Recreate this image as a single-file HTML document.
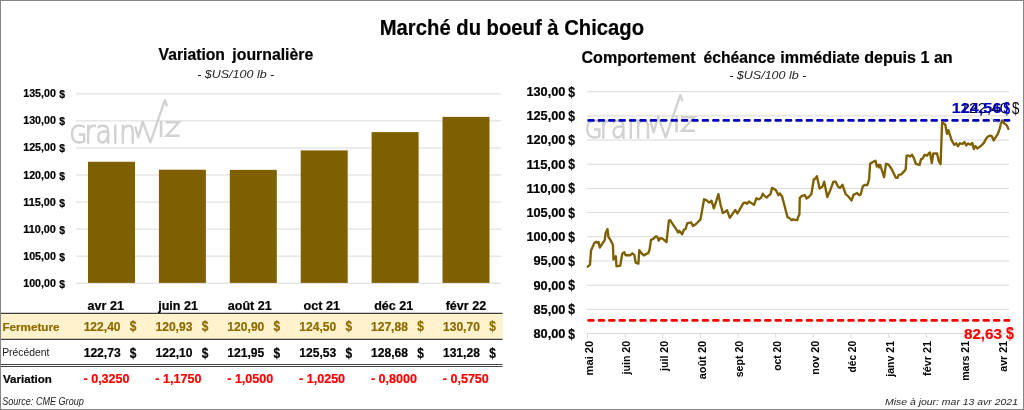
<!DOCTYPE html>
<html><head><meta charset="utf-8"><title>Marché du boeuf à Chicago</title>
<style>html,body{margin:0;padding:0;background:#fff;}svg{display:block;}</style></head>
<body><svg width="1024" height="410" viewBox="0 0 1024 410">
<defs><clipPath id="wmclip" clipPathUnits="userSpaceOnUse"><rect x="60" y="124.5" width="100" height="40"/></clipPath></defs>
<rect x="0" y="0" width="1024" height="410" fill="#fff"/>
<rect x="0" y="313.5" width="502.6" height="25.5" fill="#FFF2CC"/>
<line x1="0" y1="313.3" x2="502.6" y2="313.3" stroke="#3f3f3f" stroke-width="1.2"/>
<line x1="0" y1="339.3" x2="502.6" y2="339.3" stroke="#3f3f3f" stroke-width="1.2"/>
<line x1="0" y1="364.5" x2="502.6" y2="364.5" stroke="#444" stroke-width="1"/>
<line x1="0" y1="366.5" x2="502.6" y2="366.5" stroke="#444" stroke-width="1"/>
<line x1="76" y1="93.86" x2="501" y2="93.86" stroke="#d9d9d9" stroke-width="1"/>
<line x1="76" y1="120.91" x2="501" y2="120.91" stroke="#d9d9d9" stroke-width="1"/>
<line x1="76" y1="147.96" x2="501" y2="147.96" stroke="#d9d9d9" stroke-width="1"/>
<line x1="76" y1="175.01" x2="501" y2="175.01" stroke="#d9d9d9" stroke-width="1"/>
<line x1="76" y1="202.06" x2="501" y2="202.06" stroke="#d9d9d9" stroke-width="1"/>
<line x1="76" y1="229.11" x2="501" y2="229.11" stroke="#d9d9d9" stroke-width="1"/>
<line x1="76" y1="256.16" x2="501" y2="256.16" stroke="#d9d9d9" stroke-width="1"/>
<line x1="76" y1="283.21" x2="501" y2="283.21" stroke="#d9d9d9" stroke-width="1"/>
<g transform="translate(0.00 0.00)">
<text x="69.40" y="143.30" textLength="17.62" lengthAdjust="spacingAndGlyphs" style="font-family:'DejaVu Sans', sans-serif;font-size:24.50px;font-weight:200;font-style:normal" fill="#d2d2d2" stroke="#d2d2d2" stroke-width="1.3">G</text>
<text x="84.45" y="142.70" textLength="51.72" lengthAdjust="spacingAndGlyphs" style="font-family:'DejaVu Sans', sans-serif;font-size:31.50px;font-weight:200;font-style:normal" fill="#d2d2d2" stroke="#d2d2d2" stroke-width="1.3" clip-path="url(#wmclip)">rain</text>
<polyline points="135.2,126.5 138.3,137.3 142.8,121.8 150.3,142.3 164.8,100.3 167.2,106.3" fill="none" stroke="#d2d2d2" stroke-width="2.4" stroke-linejoin="round"/>
<rect x="159.8" y="121" width="2.6" height="16.2" fill="#d2d2d2"/>
<polyline points="165.6,122.2 179,122.2 166.5,135.8 179.6,135.8" fill="none" stroke="#d2d2d2" stroke-width="2.4"/>
</g>
<rect x="88.00" y="161.76" width="47" height="121.14" fill="#7F6000"/>
<rect x="158.90" y="169.71" width="47" height="113.19" fill="#7F6000"/>
<rect x="229.80" y="169.87" width="47" height="113.03" fill="#7F6000"/>
<rect x="300.70" y="150.40" width="47" height="132.50" fill="#7F6000"/>
<rect x="371.60" y="132.12" width="47" height="150.78" fill="#7F6000"/>
<rect x="442.50" y="116.87" width="47" height="166.03" fill="#7F6000"/>
<text x="23.23" y="97.36" textLength="32.71" lengthAdjust="spacingAndGlyphs" style="font-family:'Liberation Sans', Arial, sans-serif;font-size:10.30px;font-weight:bold;font-style:normal" fill="#000" stroke="#000" stroke-width="0.20">135,00</text>
<text x="59.16" y="98.36" textLength="5.78" lengthAdjust="spacingAndGlyphs" style="font-family:'Liberation Sans', Arial, sans-serif;font-size:11.40px;font-weight:bold;font-style:normal" fill="#000" stroke="#000" stroke-width="0.20">$</text>
<text x="23.23" y="124.41" textLength="32.71" lengthAdjust="spacingAndGlyphs" style="font-family:'Liberation Sans', Arial, sans-serif;font-size:10.30px;font-weight:bold;font-style:normal" fill="#000" stroke="#000" stroke-width="0.20">130,00</text>
<text x="59.16" y="125.41" textLength="5.78" lengthAdjust="spacingAndGlyphs" style="font-family:'Liberation Sans', Arial, sans-serif;font-size:11.40px;font-weight:bold;font-style:normal" fill="#000" stroke="#000" stroke-width="0.20">$</text>
<text x="23.23" y="151.46" textLength="32.71" lengthAdjust="spacingAndGlyphs" style="font-family:'Liberation Sans', Arial, sans-serif;font-size:10.30px;font-weight:bold;font-style:normal" fill="#000" stroke="#000" stroke-width="0.20">125,00</text>
<text x="59.16" y="152.46" textLength="5.78" lengthAdjust="spacingAndGlyphs" style="font-family:'Liberation Sans', Arial, sans-serif;font-size:11.40px;font-weight:bold;font-style:normal" fill="#000" stroke="#000" stroke-width="0.20">$</text>
<text x="23.23" y="178.51" textLength="32.71" lengthAdjust="spacingAndGlyphs" style="font-family:'Liberation Sans', Arial, sans-serif;font-size:10.30px;font-weight:bold;font-style:normal" fill="#000" stroke="#000" stroke-width="0.20">120,00</text>
<text x="59.16" y="179.51" textLength="5.78" lengthAdjust="spacingAndGlyphs" style="font-family:'Liberation Sans', Arial, sans-serif;font-size:11.40px;font-weight:bold;font-style:normal" fill="#000" stroke="#000" stroke-width="0.20">$</text>
<text x="23.23" y="205.56" textLength="32.71" lengthAdjust="spacingAndGlyphs" style="font-family:'Liberation Sans', Arial, sans-serif;font-size:10.30px;font-weight:bold;font-style:normal" fill="#000" stroke="#000" stroke-width="0.20">115,00</text>
<text x="59.16" y="206.56" textLength="5.78" lengthAdjust="spacingAndGlyphs" style="font-family:'Liberation Sans', Arial, sans-serif;font-size:11.40px;font-weight:bold;font-style:normal" fill="#000" stroke="#000" stroke-width="0.20">$</text>
<text x="23.23" y="232.61" textLength="32.71" lengthAdjust="spacingAndGlyphs" style="font-family:'Liberation Sans', Arial, sans-serif;font-size:10.30px;font-weight:bold;font-style:normal" fill="#000" stroke="#000" stroke-width="0.20">110,00</text>
<text x="59.16" y="233.61" textLength="5.78" lengthAdjust="spacingAndGlyphs" style="font-family:'Liberation Sans', Arial, sans-serif;font-size:11.40px;font-weight:bold;font-style:normal" fill="#000" stroke="#000" stroke-width="0.20">$</text>
<text x="23.23" y="259.66" textLength="32.71" lengthAdjust="spacingAndGlyphs" style="font-family:'Liberation Sans', Arial, sans-serif;font-size:10.30px;font-weight:bold;font-style:normal" fill="#000" stroke="#000" stroke-width="0.20">105,00</text>
<text x="59.16" y="260.66" textLength="5.78" lengthAdjust="spacingAndGlyphs" style="font-family:'Liberation Sans', Arial, sans-serif;font-size:11.40px;font-weight:bold;font-style:normal" fill="#000" stroke="#000" stroke-width="0.20">$</text>
<text x="23.23" y="286.71" textLength="32.71" lengthAdjust="spacingAndGlyphs" style="font-family:'Liberation Sans', Arial, sans-serif;font-size:10.30px;font-weight:bold;font-style:normal" fill="#000" stroke="#000" stroke-width="0.20">100,00</text>
<text x="59.16" y="287.71" textLength="5.78" lengthAdjust="spacingAndGlyphs" style="font-family:'Liberation Sans', Arial, sans-serif;font-size:11.40px;font-weight:bold;font-style:normal" fill="#000" stroke="#000" stroke-width="0.20">$</text>
<text x="158.59" y="59.80" textLength="66.37" lengthAdjust="spacingAndGlyphs" style="font-family:'Liberation Sans', Arial, sans-serif;font-size:16.30px;font-weight:bold;font-style:normal" fill="#000" stroke="#000" stroke-width="0.20">Variation</text>
<text x="232.35" y="59.80" textLength="80.89" lengthAdjust="spacingAndGlyphs" style="font-family:'Liberation Sans', Arial, sans-serif;font-size:16.30px;font-weight:bold;font-style:normal" fill="#000" stroke="#000" stroke-width="0.20">journalière</text>
<text x="197.16" y="77.60" textLength="77.12" lengthAdjust="spacingAndGlyphs" style="font-family:'Liberation Sans', Arial, sans-serif;font-size:11.50px;font-weight:normal;font-style:italic" fill="#262626">- $US/100 lb -</text>
<text x="87.63" y="309.70" textLength="36.32" lengthAdjust="spacingAndGlyphs" style="font-family:'Liberation Sans', Arial, sans-serif;font-size:12.20px;font-weight:bold;font-style:normal" fill="#000" stroke="#000" stroke-width="0.20">avr 21</text>
<text x="158.17" y="309.70" textLength="39.81" lengthAdjust="spacingAndGlyphs" style="font-family:'Liberation Sans', Arial, sans-serif;font-size:12.20px;font-weight:bold;font-style:normal" fill="#000" stroke="#000" stroke-width="0.20">juin 21</text>
<text x="227.78" y="309.70" textLength="44.01" lengthAdjust="spacingAndGlyphs" style="font-family:'Liberation Sans', Arial, sans-serif;font-size:12.20px;font-weight:bold;font-style:normal" fill="#000" stroke="#000" stroke-width="0.20">août 21</text>
<text x="303.58" y="309.70" textLength="36.30" lengthAdjust="spacingAndGlyphs" style="font-family:'Liberation Sans', Arial, sans-serif;font-size:12.20px;font-weight:bold;font-style:normal" fill="#000" stroke="#000" stroke-width="0.20">oct 21</text>
<text x="374.16" y="309.70" textLength="39.12" lengthAdjust="spacingAndGlyphs" style="font-family:'Liberation Sans', Arial, sans-serif;font-size:12.20px;font-weight:bold;font-style:normal" fill="#000" stroke="#000" stroke-width="0.20">déc 21</text>
<text x="445.68" y="309.70" textLength="40.52" lengthAdjust="spacingAndGlyphs" style="font-family:'Liberation Sans', Arial, sans-serif;font-size:12.20px;font-weight:bold;font-style:normal" fill="#000" stroke="#000" stroke-width="0.20">févr 22</text>
<text x="83.64" y="330.90" textLength="36.96" lengthAdjust="spacingAndGlyphs" style="font-family:'Liberation Sans', Arial, sans-serif;font-size:12.50px;font-weight:bold;font-style:normal" fill="#8E6B00" stroke="#8E6B00" stroke-width="0.20">122,40</text>
<text x="129.84" y="331.45" textLength="6.63" lengthAdjust="spacingAndGlyphs" style="font-family:'Liberation Sans', Arial, sans-serif;font-size:14.30px;font-weight:bold;font-style:normal" fill="#8E6B00" stroke="#8E6B00" stroke-width="0.20">$</text>
<text x="83.68" y="356.50" textLength="36.96" lengthAdjust="spacingAndGlyphs" style="font-family:'Liberation Sans', Arial, sans-serif;font-size:12.50px;font-weight:bold;font-style:normal" fill="#000" stroke="#000" stroke-width="0.20">122,73</text>
<text x="129.84" y="357.70" textLength="6.63" lengthAdjust="spacingAndGlyphs" style="font-family:'Liberation Sans', Arial, sans-serif;font-size:14.30px;font-weight:bold;font-style:normal" fill="#000" stroke="#000" stroke-width="0.20">$</text>
<text x="83.51" y="382.70" textLength="46.00" lengthAdjust="spacingAndGlyphs" style="font-family:'Liberation Sans', Arial, sans-serif;font-size:12.50px;font-weight:bold;font-style:normal" fill="#FF0000" stroke="#FF0000" stroke-width="0.20">- 0,3250</text>
<text x="155.44" y="330.90" textLength="36.96" lengthAdjust="spacingAndGlyphs" style="font-family:'Liberation Sans', Arial, sans-serif;font-size:12.50px;font-weight:bold;font-style:normal" fill="#8E6B00" stroke="#8E6B00" stroke-width="0.20">120,93</text>
<text x="201.70" y="331.45" textLength="6.63" lengthAdjust="spacingAndGlyphs" style="font-family:'Liberation Sans', Arial, sans-serif;font-size:14.30px;font-weight:bold;font-style:normal" fill="#8E6B00" stroke="#8E6B00" stroke-width="0.20">$</text>
<text x="155.60" y="356.50" textLength="36.96" lengthAdjust="spacingAndGlyphs" style="font-family:'Liberation Sans', Arial, sans-serif;font-size:12.50px;font-weight:bold;font-style:normal" fill="#000" stroke="#000" stroke-width="0.20">122,10</text>
<text x="201.70" y="357.70" textLength="6.63" lengthAdjust="spacingAndGlyphs" style="font-family:'Liberation Sans', Arial, sans-serif;font-size:14.30px;font-weight:bold;font-style:normal" fill="#000" stroke="#000" stroke-width="0.20">$</text>
<text x="155.37" y="382.70" textLength="46.00" lengthAdjust="spacingAndGlyphs" style="font-family:'Liberation Sans', Arial, sans-serif;font-size:12.50px;font-weight:bold;font-style:normal" fill="#FF0000" stroke="#FF0000" stroke-width="0.20">- 1,1750</text>
<text x="227.36" y="330.90" textLength="36.96" lengthAdjust="spacingAndGlyphs" style="font-family:'Liberation Sans', Arial, sans-serif;font-size:12.50px;font-weight:bold;font-style:normal" fill="#8E6B00" stroke="#8E6B00" stroke-width="0.20">120,90</text>
<text x="273.56" y="331.45" textLength="6.63" lengthAdjust="spacingAndGlyphs" style="font-family:'Liberation Sans', Arial, sans-serif;font-size:14.30px;font-weight:bold;font-style:normal" fill="#8E6B00" stroke="#8E6B00" stroke-width="0.20">$</text>
<text x="227.30" y="356.50" textLength="36.96" lengthAdjust="spacingAndGlyphs" style="font-family:'Liberation Sans', Arial, sans-serif;font-size:12.50px;font-weight:bold;font-style:normal" fill="#000" stroke="#000" stroke-width="0.20">121,95</text>
<text x="273.56" y="357.70" textLength="6.63" lengthAdjust="spacingAndGlyphs" style="font-family:'Liberation Sans', Arial, sans-serif;font-size:14.30px;font-weight:bold;font-style:normal" fill="#000" stroke="#000" stroke-width="0.20">$</text>
<text x="227.23" y="382.70" textLength="46.00" lengthAdjust="spacingAndGlyphs" style="font-family:'Liberation Sans', Arial, sans-serif;font-size:12.50px;font-weight:bold;font-style:normal" fill="#FF0000" stroke="#FF0000" stroke-width="0.20">- 1,0500</text>
<text x="299.22" y="330.90" textLength="36.96" lengthAdjust="spacingAndGlyphs" style="font-family:'Liberation Sans', Arial, sans-serif;font-size:12.50px;font-weight:bold;font-style:normal" fill="#8E6B00" stroke="#8E6B00" stroke-width="0.20">124,50</text>
<text x="345.42" y="331.45" textLength="6.63" lengthAdjust="spacingAndGlyphs" style="font-family:'Liberation Sans', Arial, sans-serif;font-size:14.30px;font-weight:bold;font-style:normal" fill="#8E6B00" stroke="#8E6B00" stroke-width="0.20">$</text>
<text x="299.26" y="356.50" textLength="36.96" lengthAdjust="spacingAndGlyphs" style="font-family:'Liberation Sans', Arial, sans-serif;font-size:12.50px;font-weight:bold;font-style:normal" fill="#000" stroke="#000" stroke-width="0.20">125,53</text>
<text x="345.42" y="357.70" textLength="6.63" lengthAdjust="spacingAndGlyphs" style="font-family:'Liberation Sans', Arial, sans-serif;font-size:14.30px;font-weight:bold;font-style:normal" fill="#000" stroke="#000" stroke-width="0.20">$</text>
<text x="299.09" y="382.70" textLength="46.00" lengthAdjust="spacingAndGlyphs" style="font-family:'Liberation Sans', Arial, sans-serif;font-size:12.50px;font-weight:bold;font-style:normal" fill="#FF0000" stroke="#FF0000" stroke-width="0.20">- 1,0250</text>
<text x="370.95" y="330.90" textLength="36.96" lengthAdjust="spacingAndGlyphs" style="font-family:'Liberation Sans', Arial, sans-serif;font-size:12.50px;font-weight:bold;font-style:normal" fill="#8E6B00" stroke="#8E6B00" stroke-width="0.20">127,88</text>
<text x="417.28" y="331.45" textLength="6.63" lengthAdjust="spacingAndGlyphs" style="font-family:'Liberation Sans', Arial, sans-serif;font-size:14.30px;font-weight:bold;font-style:normal" fill="#8E6B00" stroke="#8E6B00" stroke-width="0.20">$</text>
<text x="371.05" y="356.50" textLength="36.96" lengthAdjust="spacingAndGlyphs" style="font-family:'Liberation Sans', Arial, sans-serif;font-size:12.50px;font-weight:bold;font-style:normal" fill="#000" stroke="#000" stroke-width="0.20">128,68</text>
<text x="417.28" y="357.70" textLength="6.63" lengthAdjust="spacingAndGlyphs" style="font-family:'Liberation Sans', Arial, sans-serif;font-size:14.30px;font-weight:bold;font-style:normal" fill="#000" stroke="#000" stroke-width="0.20">$</text>
<text x="370.95" y="382.70" textLength="46.00" lengthAdjust="spacingAndGlyphs" style="font-family:'Liberation Sans', Arial, sans-serif;font-size:12.50px;font-weight:bold;font-style:normal" fill="#FF0000" stroke="#FF0000" stroke-width="0.20">- 0,8000</text>
<text x="442.94" y="330.90" textLength="36.96" lengthAdjust="spacingAndGlyphs" style="font-family:'Liberation Sans', Arial, sans-serif;font-size:12.50px;font-weight:bold;font-style:normal" fill="#8E6B00" stroke="#8E6B00" stroke-width="0.20">130,70</text>
<text x="489.14" y="331.45" textLength="6.63" lengthAdjust="spacingAndGlyphs" style="font-family:'Liberation Sans', Arial, sans-serif;font-size:14.30px;font-weight:bold;font-style:normal" fill="#8E6B00" stroke="#8E6B00" stroke-width="0.20">$</text>
<text x="442.91" y="356.50" textLength="36.96" lengthAdjust="spacingAndGlyphs" style="font-family:'Liberation Sans', Arial, sans-serif;font-size:12.50px;font-weight:bold;font-style:normal" fill="#000" stroke="#000" stroke-width="0.20">131,28</text>
<text x="489.14" y="357.70" textLength="6.63" lengthAdjust="spacingAndGlyphs" style="font-family:'Liberation Sans', Arial, sans-serif;font-size:14.30px;font-weight:bold;font-style:normal" fill="#000" stroke="#000" stroke-width="0.20">$</text>
<text x="442.81" y="382.70" textLength="46.00" lengthAdjust="spacingAndGlyphs" style="font-family:'Liberation Sans', Arial, sans-serif;font-size:12.50px;font-weight:bold;font-style:normal" fill="#FF0000" stroke="#FF0000" stroke-width="0.20">- 0,5750</text>
<text x="2.42" y="330.50" textLength="57.08" lengthAdjust="spacingAndGlyphs" style="font-family:'Liberation Sans', Arial, sans-serif;font-size:10.50px;font-weight:bold;font-style:normal" fill="#8E6B00" stroke="#8E6B00" stroke-width="0.20">Fermeture</text>
<text x="2.15" y="355.90" textLength="47.33" lengthAdjust="spacingAndGlyphs" style="font-family:'Liberation Sans', Arial, sans-serif;font-size:10.60px;font-weight:normal;font-style:normal" fill="#1a1a1a">Précédent</text>
<text x="3.02" y="382.70" textLength="48.78" lengthAdjust="spacingAndGlyphs" style="font-family:'Liberation Sans', Arial, sans-serif;font-size:11.50px;font-weight:bold;font-style:normal" fill="#000" stroke="#000" stroke-width="0.20">Variation</text>
<text x="2.14" y="404.50" textLength="81.65" lengthAdjust="spacingAndGlyphs" style="font-family:'Liberation Sans', Arial, sans-serif;font-size:10.20px;font-weight:normal;font-style:italic" fill="#262626">Source: CME Group</text>
<text x="379.75" y="34.80" textLength="264.35" lengthAdjust="spacingAndGlyphs" style="font-family:'Liberation Sans', Arial, sans-serif;font-size:22.10px;font-weight:bold;font-style:normal" fill="#000" stroke="#000" stroke-width="0.20">Marché du boeuf à Chicago</text>
<line x1="587" y1="91.70" x2="1009" y2="91.70" stroke="#d9d9d9" stroke-width="1"/>
<line x1="587" y1="115.88" x2="1009" y2="115.88" stroke="#d9d9d9" stroke-width="1"/>
<line x1="587" y1="140.06" x2="1009" y2="140.06" stroke="#d9d9d9" stroke-width="1"/>
<line x1="587" y1="164.24" x2="1009" y2="164.24" stroke="#d9d9d9" stroke-width="1"/>
<line x1="587" y1="188.42" x2="1009" y2="188.42" stroke="#d9d9d9" stroke-width="1"/>
<line x1="587" y1="212.60" x2="1009" y2="212.60" stroke="#d9d9d9" stroke-width="1"/>
<line x1="587" y1="236.78" x2="1009" y2="236.78" stroke="#d9d9d9" stroke-width="1"/>
<line x1="587" y1="260.96" x2="1009" y2="260.96" stroke="#d9d9d9" stroke-width="1"/>
<line x1="587" y1="285.14" x2="1009" y2="285.14" stroke="#d9d9d9" stroke-width="1"/>
<line x1="587" y1="309.32" x2="1009" y2="309.32" stroke="#d9d9d9" stroke-width="1"/>
<line x1="587" y1="333.50" x2="1009" y2="333.50" stroke="#d9d9d9" stroke-width="1"/>
<line x1="587.50" y1="333.5" x2="587.50" y2="337.8" stroke="#d9d9d9" stroke-width="1"/>
<line x1="625.14" y1="333.5" x2="625.14" y2="337.8" stroke="#d9d9d9" stroke-width="1"/>
<line x1="662.78" y1="333.5" x2="662.78" y2="337.8" stroke="#d9d9d9" stroke-width="1"/>
<line x1="700.42" y1="333.5" x2="700.42" y2="337.8" stroke="#d9d9d9" stroke-width="1"/>
<line x1="738.06" y1="333.5" x2="738.06" y2="337.8" stroke="#d9d9d9" stroke-width="1"/>
<line x1="775.70" y1="333.5" x2="775.70" y2="337.8" stroke="#d9d9d9" stroke-width="1"/>
<line x1="813.34" y1="333.5" x2="813.34" y2="337.8" stroke="#d9d9d9" stroke-width="1"/>
<line x1="850.98" y1="333.5" x2="850.98" y2="337.8" stroke="#d9d9d9" stroke-width="1"/>
<line x1="888.62" y1="333.5" x2="888.62" y2="337.8" stroke="#d9d9d9" stroke-width="1"/>
<line x1="926.26" y1="333.5" x2="926.26" y2="337.8" stroke="#d9d9d9" stroke-width="1"/>
<line x1="963.90" y1="333.5" x2="963.90" y2="337.8" stroke="#d9d9d9" stroke-width="1"/>
<line x1="1001.54" y1="333.5" x2="1001.54" y2="337.8" stroke="#d9d9d9" stroke-width="1"/>
<g transform="translate(515.40 -5.00)">
<text x="69.40" y="143.30" textLength="17.62" lengthAdjust="spacingAndGlyphs" style="font-family:'DejaVu Sans', sans-serif;font-size:24.50px;font-weight:200;font-style:normal" fill="#d2d2d2" stroke="#d2d2d2" stroke-width="1.3">G</text>
<text x="84.45" y="142.70" textLength="51.72" lengthAdjust="spacingAndGlyphs" style="font-family:'DejaVu Sans', sans-serif;font-size:31.50px;font-weight:200;font-style:normal" fill="#d2d2d2" stroke="#d2d2d2" stroke-width="1.3" clip-path="url(#wmclip)">rain</text>
<polyline points="135.2,126.5 138.3,137.3 142.8,121.8 150.3,142.3 164.8,100.3 167.2,106.3" fill="none" stroke="#d2d2d2" stroke-width="2.4" stroke-linejoin="round"/>
<rect x="159.8" y="121" width="2.6" height="16.2" fill="#d2d2d2"/>
<polyline points="165.6,122.2 179,122.2 166.5,135.8 179.6,135.8" fill="none" stroke="#d2d2d2" stroke-width="2.4"/>
</g>
<text x="526.40" y="96.10" textLength="39.03" lengthAdjust="spacingAndGlyphs" style="font-family:'Liberation Sans', Arial, sans-serif;font-size:12.40px;font-weight:bold;font-style:normal" fill="#000" stroke="#000" stroke-width="0.20">130,00</text>
<text x="568.34" y="96.70" textLength="6.73" lengthAdjust="spacingAndGlyphs" style="font-family:'Liberation Sans', Arial, sans-serif;font-size:15.40px;font-weight:bold;font-style:normal" fill="#000" stroke="#000" stroke-width="0.20">$</text>
<text x="526.40" y="120.28" textLength="39.03" lengthAdjust="spacingAndGlyphs" style="font-family:'Liberation Sans', Arial, sans-serif;font-size:12.40px;font-weight:bold;font-style:normal" fill="#000" stroke="#000" stroke-width="0.20">125,00</text>
<text x="568.34" y="120.88" textLength="6.73" lengthAdjust="spacingAndGlyphs" style="font-family:'Liberation Sans', Arial, sans-serif;font-size:15.40px;font-weight:bold;font-style:normal" fill="#000" stroke="#000" stroke-width="0.20">$</text>
<text x="526.40" y="144.46" textLength="39.03" lengthAdjust="spacingAndGlyphs" style="font-family:'Liberation Sans', Arial, sans-serif;font-size:12.40px;font-weight:bold;font-style:normal" fill="#000" stroke="#000" stroke-width="0.20">120,00</text>
<text x="568.34" y="145.06" textLength="6.73" lengthAdjust="spacingAndGlyphs" style="font-family:'Liberation Sans', Arial, sans-serif;font-size:15.40px;font-weight:bold;font-style:normal" fill="#000" stroke="#000" stroke-width="0.20">$</text>
<text x="526.40" y="168.64" textLength="39.03" lengthAdjust="spacingAndGlyphs" style="font-family:'Liberation Sans', Arial, sans-serif;font-size:12.40px;font-weight:bold;font-style:normal" fill="#000" stroke="#000" stroke-width="0.20">115,00</text>
<text x="568.34" y="169.24" textLength="6.73" lengthAdjust="spacingAndGlyphs" style="font-family:'Liberation Sans', Arial, sans-serif;font-size:15.40px;font-weight:bold;font-style:normal" fill="#000" stroke="#000" stroke-width="0.20">$</text>
<text x="526.40" y="192.82" textLength="39.03" lengthAdjust="spacingAndGlyphs" style="font-family:'Liberation Sans', Arial, sans-serif;font-size:12.40px;font-weight:bold;font-style:normal" fill="#000" stroke="#000" stroke-width="0.20">110,00</text>
<text x="568.34" y="193.42" textLength="6.73" lengthAdjust="spacingAndGlyphs" style="font-family:'Liberation Sans', Arial, sans-serif;font-size:15.40px;font-weight:bold;font-style:normal" fill="#000" stroke="#000" stroke-width="0.20">$</text>
<text x="526.40" y="217.00" textLength="39.03" lengthAdjust="spacingAndGlyphs" style="font-family:'Liberation Sans', Arial, sans-serif;font-size:12.40px;font-weight:bold;font-style:normal" fill="#000" stroke="#000" stroke-width="0.20">105,00</text>
<text x="568.34" y="217.60" textLength="6.73" lengthAdjust="spacingAndGlyphs" style="font-family:'Liberation Sans', Arial, sans-serif;font-size:15.40px;font-weight:bold;font-style:normal" fill="#000" stroke="#000" stroke-width="0.20">$</text>
<text x="526.40" y="241.18" textLength="39.03" lengthAdjust="spacingAndGlyphs" style="font-family:'Liberation Sans', Arial, sans-serif;font-size:12.40px;font-weight:bold;font-style:normal" fill="#000" stroke="#000" stroke-width="0.20">100,00</text>
<text x="568.34" y="241.78" textLength="6.73" lengthAdjust="spacingAndGlyphs" style="font-family:'Liberation Sans', Arial, sans-serif;font-size:15.40px;font-weight:bold;font-style:normal" fill="#000" stroke="#000" stroke-width="0.20">$</text>
<text x="533.53" y="265.36" textLength="31.89" lengthAdjust="spacingAndGlyphs" style="font-family:'Liberation Sans', Arial, sans-serif;font-size:12.40px;font-weight:bold;font-style:normal" fill="#000" stroke="#000" stroke-width="0.20">95,00</text>
<text x="568.34" y="265.96" textLength="6.73" lengthAdjust="spacingAndGlyphs" style="font-family:'Liberation Sans', Arial, sans-serif;font-size:15.40px;font-weight:bold;font-style:normal" fill="#000" stroke="#000" stroke-width="0.20">$</text>
<text x="533.53" y="289.54" textLength="31.89" lengthAdjust="spacingAndGlyphs" style="font-family:'Liberation Sans', Arial, sans-serif;font-size:12.40px;font-weight:bold;font-style:normal" fill="#000" stroke="#000" stroke-width="0.20">90,00</text>
<text x="568.34" y="290.14" textLength="6.73" lengthAdjust="spacingAndGlyphs" style="font-family:'Liberation Sans', Arial, sans-serif;font-size:15.40px;font-weight:bold;font-style:normal" fill="#000" stroke="#000" stroke-width="0.20">$</text>
<text x="533.53" y="313.72" textLength="31.89" lengthAdjust="spacingAndGlyphs" style="font-family:'Liberation Sans', Arial, sans-serif;font-size:12.40px;font-weight:bold;font-style:normal" fill="#000" stroke="#000" stroke-width="0.20">85,00</text>
<text x="568.34" y="314.32" textLength="6.73" lengthAdjust="spacingAndGlyphs" style="font-family:'Liberation Sans', Arial, sans-serif;font-size:15.40px;font-weight:bold;font-style:normal" fill="#000" stroke="#000" stroke-width="0.20">$</text>
<text x="533.53" y="337.90" textLength="31.89" lengthAdjust="spacingAndGlyphs" style="font-family:'Liberation Sans', Arial, sans-serif;font-size:12.40px;font-weight:bold;font-style:normal" fill="#000" stroke="#000" stroke-width="0.20">80,00</text>
<text x="568.34" y="338.50" textLength="6.73" lengthAdjust="spacingAndGlyphs" style="font-family:'Liberation Sans', Arial, sans-serif;font-size:15.40px;font-weight:bold;font-style:normal" fill="#000" stroke="#000" stroke-width="0.20">$</text>
<text x="581.54" y="62.90" textLength="114.05" lengthAdjust="spacingAndGlyphs" style="font-family:'Liberation Sans', Arial, sans-serif;font-size:16.30px;font-weight:bold;font-style:normal" fill="#000" stroke="#000" stroke-width="0.20">Comportement</text>
<text x="703.59" y="62.90" textLength="71.55" lengthAdjust="spacingAndGlyphs" style="font-family:'Liberation Sans', Arial, sans-serif;font-size:16.30px;font-weight:bold;font-style:normal" fill="#000" stroke="#000" stroke-width="0.20">échéance</text>
<text x="780.18" y="62.90" textLength="172.52" lengthAdjust="spacingAndGlyphs" style="font-family:'Liberation Sans', Arial, sans-serif;font-size:16.30px;font-weight:bold;font-style:normal" fill="#000" stroke="#000" stroke-width="0.20">immédiate depuis 1 an</text>
<text x="729.16" y="79.00" textLength="77.22" lengthAdjust="spacingAndGlyphs" style="font-family:'Liberation Sans', Arial, sans-serif;font-size:11.50px;font-weight:normal;font-style:italic" fill="#262626">- $US/100 lb -</text>
<text transform="translate(592.70 0) rotate(-90)" x="-375.43" y="0" textLength="34.59" lengthAdjust="spacingAndGlyphs" style="font-family:'Liberation Sans', Arial, sans-serif;font-size:11.80px;font-weight:bold" fill="#000">mai 20</text>
<text transform="translate(630.34 0) rotate(-90)" x="-374.53" y="0" textLength="33.67" lengthAdjust="spacingAndGlyphs" style="font-family:'Liberation Sans', Arial, sans-serif;font-size:11.80px;font-weight:bold" fill="#000">juin 20</text>
<text transform="translate(667.98 0) rotate(-90)" x="-370.93" y="0" textLength="30.07" lengthAdjust="spacingAndGlyphs" style="font-family:'Liberation Sans', Arial, sans-serif;font-size:11.80px;font-weight:bold" fill="#000">juil 20</text>
<text transform="translate(705.62 0) rotate(-90)" x="-379.32" y="0" textLength="38.47" lengthAdjust="spacingAndGlyphs" style="font-family:'Liberation Sans', Arial, sans-serif;font-size:11.80px;font-weight:bold" fill="#000">août 20</text>
<text transform="translate(743.26 0) rotate(-90)" x="-377.27" y="0" textLength="36.40" lengthAdjust="spacingAndGlyphs" style="font-family:'Liberation Sans', Arial, sans-serif;font-size:11.80px;font-weight:bold" fill="#000">sept 20</text>
<text transform="translate(780.90 0) rotate(-90)" x="-370.80" y="0" textLength="29.93" lengthAdjust="spacingAndGlyphs" style="font-family:'Liberation Sans', Arial, sans-serif;font-size:11.80px;font-weight:bold" fill="#000">oct 20</text>
<text transform="translate(818.54 0) rotate(-90)" x="-374.81" y="0" textLength="33.95" lengthAdjust="spacingAndGlyphs" style="font-family:'Liberation Sans', Arial, sans-serif;font-size:11.80px;font-weight:bold" fill="#000">nov 20</text>
<text transform="translate(856.18 0) rotate(-90)" x="-372.42" y="0" textLength="31.53" lengthAdjust="spacingAndGlyphs" style="font-family:'Liberation Sans', Arial, sans-serif;font-size:11.80px;font-weight:bold" fill="#000">déc 20</text>
<text transform="translate(893.82 0) rotate(-90)" x="-376.74" y="0" textLength="35.73" lengthAdjust="spacingAndGlyphs" style="font-family:'Liberation Sans', Arial, sans-serif;font-size:11.80px;font-weight:bold" fill="#000">janv 21</text>
<text transform="translate(931.46 0) rotate(-90)" x="-375.99" y="0" textLength="34.99" lengthAdjust="spacingAndGlyphs" style="font-family:'Liberation Sans', Arial, sans-serif;font-size:11.80px;font-weight:bold" fill="#000">févr 21</text>
<text transform="translate(969.10 0) rotate(-90)" x="-380.79" y="0" textLength="39.79" lengthAdjust="spacingAndGlyphs" style="font-family:'Liberation Sans', Arial, sans-serif;font-size:11.80px;font-weight:bold" fill="#000">mars 21</text>
<text transform="translate(1006.74 0) rotate(-90)" x="-371.81" y="0" textLength="30.81" lengthAdjust="spacingAndGlyphs" style="font-family:'Liberation Sans', Arial, sans-serif;font-size:11.80px;font-weight:bold" fill="#000">avr 21</text>
<line x1="588.6" y1="320.45" x2="1009" y2="320.45" stroke="#FF0000" stroke-width="2.75" stroke-dasharray="4.8 5.6" stroke-linecap="round"/>
<line x1="588.6" y1="120.45" x2="1009" y2="120.45" stroke="#0000B8" stroke-width="2.75" stroke-dasharray="4.8 5.6" stroke-linecap="round"/>
<polyline points="587.8,266.7 590.0,264.6 591.0,250.6 594.5,242.8 596.3,241.7 597.4,243.0 598.5,241.9 599.8,247.5 602.8,242.8 604.8,240.1 605.5,233.4 607.5,229.1 608.4,236.8 610.2,239.5 612.9,244.8 613.5,259.6 614.9,257.6 615.8,256.2 616.5,266.3 620.2,265.6 622.3,253.6 624.3,252.2 625.6,255.2 630.3,255.2 632.3,253.3 634.3,254.9 635.7,262.7 638.4,263.6 639.3,250.2 641.5,253.2 643.7,255.4 646.4,253.9 648.2,253.2 649.5,249.9 651.0,239.8 653.2,238.9 656.1,236.2 657.4,237.1 658.7,240.7 660.5,238.0 662.9,238.9 666.5,242.2 668.9,220.6 670.2,220.2 672.9,224.3 676.6,229.8 678.0,232.5 679.3,230.7 682.1,234.3 683.9,229.8 685.7,228.8 687.2,223.4 689.0,222.8 691.2,222.4 693.0,226.1 695.8,224.3 698.5,221.5 700.5,219.4 704.1,199.3 706.3,200.2 709.3,202.6 711.5,200.7 713.8,208.4 716.0,202.0 718.4,194.1 720.6,204.8 722.8,213.0 725.2,211.7 727.0,210.2 729.8,217.9 732.5,213.9 735.2,209.9 737.4,213.5 740.4,208.4 743.5,202.9 745.3,202.6 747.1,203.8 749.0,201.5 751.8,203.4 754.0,204.9 756.4,198.3 758.8,199.4 761.0,197.9 762.8,193.7 764.6,196.1 766.8,197.6 768.3,195.7 770.5,194.3 772.0,187.9 773.8,188.8 776.0,190.2 778.4,195.2 779.6,193.4 782.0,196.1 784.4,205.2 787.5,217.1 789.3,218.0 791.7,220.2 793.0,219.3 795.4,219.9 797.2,220.2 798.5,216.2 799.4,214.4 799.8,197.9 801.6,196.1 804.9,195.2 806.5,198.6 808.5,197.2 811.4,194.0 813.8,179.3 815.1,178.8 816.9,176.2 819.6,188.5 822.4,186.6 824.2,181.7 827.3,197.1 830.6,189.4 833.4,181.7 835.7,181.7 837.9,186.6 840.1,187.9 842.5,184.8 845.6,194.0 848.5,196.7 851.6,200.4 853.5,194.9 857.1,193.0 859.3,195.2 860.8,194.2 862.7,186.7 864.6,184.9 867.3,185.2 869.1,179.4 870.1,163.8 872.8,162.0 875.5,160.7 876.8,166.6 878.3,164.8 879.2,167.5 880.1,164.8 884.1,177.2 886.0,163.8 888.4,164.4 891.5,168.8 895.7,177.6 897.5,177.9 898.8,174.8 901.2,174.4 903.9,171.7 905.7,169.3 906.6,155.6 908.5,155.6 910.3,156.5 912.1,154.7 914.0,158.4 915.8,163.8 919.6,164.9 920.9,159.4 922.7,158.5 924.5,154.8 926.9,155.7 928.7,153.5 930.0,152.4 931.8,163.0 933.3,153.5 937.0,153.5 938.8,161.2 940.6,164.0 942.1,122.4 943.4,123.2 945.2,124.6 947.0,133.8 948.3,130.1 949.8,134.7 951.6,140.2 954.3,144.8 956.2,143.3 958.0,146.2 959.8,143.3 962.6,143.8 964.4,142.0 966.2,145.4 968.0,143.5 970.5,144.8 972.3,142.9 973.8,149.0 975.4,146.0 977.2,148.4 980.9,146.0 983.9,142.9 985.7,139.3 987.6,136.8 990.0,135.6 991.8,136.2 993.7,140.5 995.5,137.4 997.9,133.8 999.8,128.3 1001.0,123.4 1002.2,120.4 1003.4,122.8 1005.2,124.0 1007.1,125.9 1008.3,128.9" fill="none" stroke="#7F6000" stroke-width="2.35" stroke-linejoin="round" stroke-linecap="round"/>
<line x1="991" y1="118.5" x2="1001.6" y2="124.6" stroke="#a6a6a6" stroke-width="0.6"/>
<text x="960.30" y="112.60" textLength="48.32" lengthAdjust="spacingAndGlyphs" style="font-family:'Liberation Sans', Arial, sans-serif;font-size:15.40px;font-weight:normal;font-style:normal" fill="#000">122,40</text>
<text x="1012.06" y="113.70" textLength="7.36" lengthAdjust="spacingAndGlyphs" style="font-family:'Liberation Sans', Arial, sans-serif;font-size:17.20px;font-weight:normal;font-style:normal" fill="#000">$</text>
<text x="951.67" y="112.60" textLength="49.81" lengthAdjust="spacingAndGlyphs" style="font-family:'Liberation Sans', Arial, sans-serif;font-size:15.40px;font-weight:bold;font-style:normal" fill="#0000C0" stroke="#0000C0" stroke-width="0.20">124,56</text>
<text x="1003.54" y="113.70" textLength="6.63" lengthAdjust="spacingAndGlyphs" style="font-family:'Liberation Sans', Arial, sans-serif;font-size:17.20px;font-weight:bold;font-style:normal" fill="#0000C0" stroke="#0000C0" stroke-width="0.20">$</text>
<text x="964.02" y="338.60" textLength="37.93" lengthAdjust="spacingAndGlyphs" style="font-family:'Liberation Sans', Arial, sans-serif;font-size:14.80px;font-weight:bold;font-style:normal" fill="#FF0000" stroke="#FF0000" stroke-width="0.20">82,63</text>
<text x="1006.12" y="339.10" textLength="7.78" lengthAdjust="spacingAndGlyphs" style="font-family:'Liberation Sans', Arial, sans-serif;font-size:16.70px;font-weight:bold;font-style:normal" fill="#FF0000" stroke="#FF0000" stroke-width="0.20">$</text>
<text x="884.98" y="405.00" textLength="133.00" lengthAdjust="spacingAndGlyphs" style="font-family:'Liberation Sans', Arial, sans-serif;font-size:9.30px;font-weight:normal;font-style:italic" fill="#262626">Mise à jour: mar 13 avr 2021</text>
<rect x="0.5" y="0.5" width="1023" height="409" fill="none" stroke="#868686" stroke-width="1"/>
</svg></body></html>
